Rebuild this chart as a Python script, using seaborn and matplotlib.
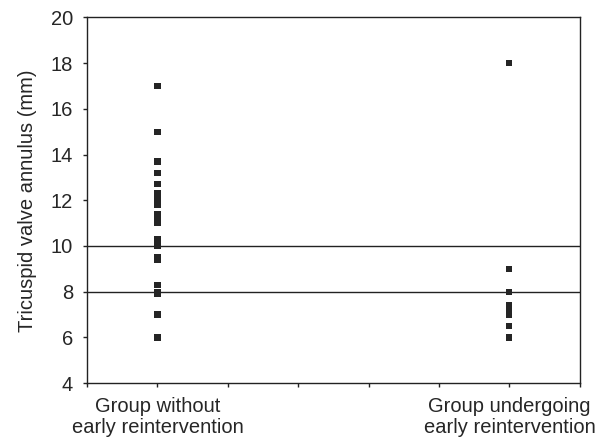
import pandas as pd
import numpy as np
import matplotlib
matplotlib.use("Agg")
import matplotlib.pyplot as plt
import seaborn as sns

# ====================================
# DATA
# ====================================

groups = ["Group without\nearly reintervention", "Group undergoing\nearly reintervention"]

without_reint = [17.0, 15.0, 13.7, 13.2, 12.7, 12.3, 12.1, 11.9, 11.8, 11.4, 11.2,
                 11.0, 10.3, 10.1, 10.0, 9.5, 9.4, 8.3, 8.0, 7.9, 7.0, 6.0]
with_reint = [18.0, 9.0, 8.0, 7.4, 7.2, 7.0, 6.5, 6.0]

y_ticks = [4, 6, 8, 10, 12, 14, 16, 18, 20]
ref_lines = [8, 10]

# group position on the x axis (0..7 ticks)
group_pos = {groups[0]: 1, groups[1]: 6}

df = pd.DataFrame({
    "group": [groups[0]] * len(without_reint) + [groups[1]] * len(with_reint),
    "value": without_reint + with_reint,
})
df["pos"] = df["group"].map(group_pos)

# ====================================
# PLOT
# ====================================

sns.set_style("ticks")
plt.rcParams["font.family"] = ["Liberation Sans", "DejaVu Sans"]

fig = plt.figure(figsize=(6.09, 4.46), dpi=100)
ax = fig.add_axes([0.143, 0.141, 0.809, 0.82])

for v in ref_lines:
    ax.axhline(v, color="#222222", lw=1.0, zorder=1)

sns.scatterplot(data=df, x="pos", y="value", marker="s", s=20,
                color="#252525", edgecolor="none", ax=ax, zorder=3)

fs = 14.5
ax.set_xlim(0, 7)
ax.set_ylim(4, 20)
ax.set_yticks(y_ticks)
ax.set_yticklabels([str(t) for t in y_ticks], fontsize=fs)
ax.set_xticks(range(8))
ax.set_xticklabels(["", groups[0], "", "", "", "", groups[1], ""], fontsize=fs,
                   linespacing=1.1)
ax.tick_params(axis="both", length=3, width=1, color="#222222", direction="out")
ax.tick_params(axis="x", pad=7)
ax.tick_params(axis="y", pad=7)

ax.set_xlabel("")
ax.set_ylabel("Tricuspid valve annulus (mm)", fontsize=fs, labelpad=10)

for sp in ax.spines.values():
    sp.set_visible(True)
    sp.set_color("#222222")
    sp.set_linewidth(1.0)

plt.savefig("out.png", dpi=100)
